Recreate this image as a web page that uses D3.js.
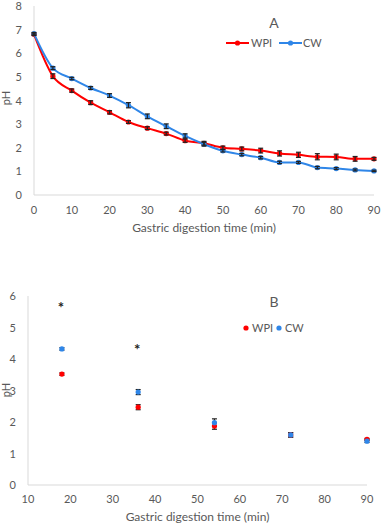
<!DOCTYPE html>
<html><head><meta charset="utf-8">
<script src="https://cdn.jsdelivr.net/npm/d3@7"></script>
<style>body{margin:0;background:#fff}svg{display:block}text{font-family:Lato,"Open Sans",sans-serif;fill:#595959}</style>
</head><body>
<svg id="c" width="383" height="524"></svg>
<script>
// Chart A data
const timesA = [0,5,10,15,20,25,30,35,40,45,50,55,60,65,70,75,80,85,90];
const wpiA = [6.8,5.03,4.42,3.91,3.5,3.09,2.83,2.6,2.3,2.19,2.0,1.95,1.88,1.76,1.7,1.62,1.61,1.53,1.53];
const wpiErrA = [0.05,0.1,0.07,0.08,0.07,0.06,0.06,0.06,0.07,0.08,0.07,0.08,0.1,0.11,0.11,0.13,0.12,0.1,0.06];
const cwA = [6.83,5.37,4.93,4.53,4.21,3.8,3.33,2.91,2.5,2.15,1.87,1.71,1.58,1.38,1.38,1.16,1.12,1.06,1.02];
const cwErrA = [0.05,0.06,0.05,0.06,0.08,0.11,0.1,0.1,0.09,0.08,0.05,0.05,0.05,0.05,0.04,0.05,0.04,0.04,0.03];
const xTicksA = [0,10,20,30,40,50,60,70,80,90];
const yTicksA = [0,1,2,3,4,5,6,7,8];
// Chart B data
const timesB = [18,36,54,72,90];
const wpiB = [3.52,2.47,1.87,1.59,1.45];
const wpiErrB = [0.04,0.08,0.1,0.07,0.03];
const cwB = [4.32,2.95,1.98,1.59,1.39];
const cwErrB = [0.04,0.08,0.12,0.07,0.04];
const starTimes = [18,36];
const starValues = [5.68,4.34];
const xTicksB = [10,20,30,40,50,60,70,80,90];
const yTicksB = [0,1,2,3,4,5,6];
const seriesNames = ["WPI","CW"];
const colors = ["#ff0000","#2f86e8"];

const svg = d3.select("#c");

function axes(g, x, y, xt, yt, xLabelY, titleY) {
  g.append("line").attr("x1", x.range()[0]).attr("x2", x.range()[0])
    .attr("y1", y.range()[0]).attr("y2", y.range()[1]).attr("stroke","#d9d9d9");
  g.append("line").attr("x1", x.range()[0]).attr("x2", x.range()[1])
    .attr("y1", y.range()[0]).attr("y2", y.range()[0]).attr("stroke","#d9d9d9");
  g.selectAll(".yt").data(yt).join("text").attr("x", x.range()[0]-12).attr("y", d=>y(d)+4)
    .attr("text-anchor","end").attr("font-size",11).text(d=>d);
  g.selectAll(".xt").data(xt).join("text").attr("x", d=>x(d)).attr("y", xLabelY)
    .attr("text-anchor","middle").attr("font-size",11).text(d=>d);
  g.append("text").attr("x",(x.range()[0]+x.range()[1])/2).attr("y",titleY)
    .attr("text-anchor","middle").attr("font-size",12).text("Gastric digestion time (min)");
}

function errBars(g, x, y, t, v, e) {
  const d = t.map((tt,i)=>({t:tt,v:v[i],e:e[i]}));
  const eb = g.append("g").attr("stroke","#222").attr("stroke-width",1.2);
  eb.selectAll("line.v").data(d).join("line").attr("x1",d=>x(d.t)).attr("x2",d=>x(d.t))
    .attr("y1",d=>y(d.v-d.e)).attr("y2",d=>y(d.v+d.e));
  eb.selectAll("line.t").data(d).join("line").attr("x1",d=>x(d.t)-2.5).attr("x2",d=>x(d.t)+2.5)
    .attr("y1",d=>y(d.v+d.e)).attr("y2",d=>y(d.v+d.e));
  eb.selectAll("line.b").data(d).join("line").attr("x1",d=>x(d.t)-2.5).attr("x2",d=>x(d.t)+2.5)
    .attr("y1",d=>y(d.v-d.e)).attr("y2",d=>y(d.v-d.e));
}

// ---- Chart A ----
const gA = svg.append("g");
const xA = d3.scaleLinear().domain([0,90]).range([34,374]);
const yA = d3.scaleLinear().domain([0,8]).range([195,6]);
axes(gA, xA, yA, xTicksA, yTicksA, 214, 232);
gA.append("text").attr("transform","translate(10,98) rotate(-90)").attr("text-anchor","middle")
  .attr("font-size",11).text("pH");
const line = d3.line().x((d,i)=>xA(timesA[i])).y(d=>yA(d)).curve(d3.curveMonotoneX);
[wpiA, cwA].forEach((s,k)=>{
  gA.append("path").attr("d", line(s)).attr("fill","none").attr("stroke",colors[k]).attr("stroke-width",2);
  gA.selectAll(null).data(s).join("circle").attr("cx",(d,i)=>xA(timesA[i])).attr("cy",d=>yA(d))
    .attr("r",2.6).attr("fill",colors[k]);
});
errBars(gA, xA, yA, timesA, wpiA, wpiErrA);
errBars(gA, xA, yA, timesA, cwA, cwErrA);
gA.append("text").attr("x",274).attr("y",28).attr("text-anchor","middle").attr("font-size",14).text("A");
const legA = [[226,251],[279,303]];
seriesNames.forEach((n,k)=>{
  gA.append("line").attr("x1",legA[k][0]).attr("x2",legA[k][0]+23).attr("y1",43).attr("y2",43)
    .attr("stroke",colors[k]).attr("stroke-width",2);
  gA.append("circle").attr("cx",legA[k][0]+11.5).attr("cy",43).attr("r",2.6).attr("fill",colors[k]);
  gA.append("text").attr("x",legA[k][1]).attr("y",47).attr("font-size",11).text(n);
});

// ---- Chart B ----
const gB = svg.append("g");
const xB = d3.scaleLinear().domain([10,90]).range([28,367]);
const yB = d3.scaleLinear().domain([0,6]).range([485,296]);
axes(gB, xB, yB, xTicksB, yTicksB, 503, 521);
gB.append("text").attr("transform","translate(10,390) rotate(-90)").attr("text-anchor","middle")
  .attr("font-size",11).text("pH");
errBars(gB, xB, yB, timesB, cwB, cwErrB);
errBars(gB, xB, yB, timesB, wpiB, wpiErrB);
[wpiB, cwB].forEach((s,k)=>{
  gB.selectAll(null).data(s).join("circle").attr("cx",(d,i)=>xB(timesB[i])).attr("cy",d=>yB(d))
    .attr("r",2.6).attr("fill",colors[k]);
});
gB.selectAll(null).data(starValues).join("text").attr("x",(d,i)=>xB(starTimes[i])-1)
  .attr("y",d=>yB(d)+7).attr("text-anchor","middle").attr("font-size",15).attr("font-weight","bold")
  .style("fill","#222").text("*");
gB.append("text").attr("x",274).attr("y",307).attr("text-anchor","middle").attr("font-size",14).text("B");
const legB = [[246,252],[279,285]];
seriesNames.forEach((n,k)=>{
  gB.append("circle").attr("cx",legB[k][0]).attr("cy",328).attr("r",2.6).attr("fill",colors[k]);
  gB.append("text").attr("x",legB[k][1]).attr("y",332).attr("font-size",11).text(n);
});
</script>
</body></html>
